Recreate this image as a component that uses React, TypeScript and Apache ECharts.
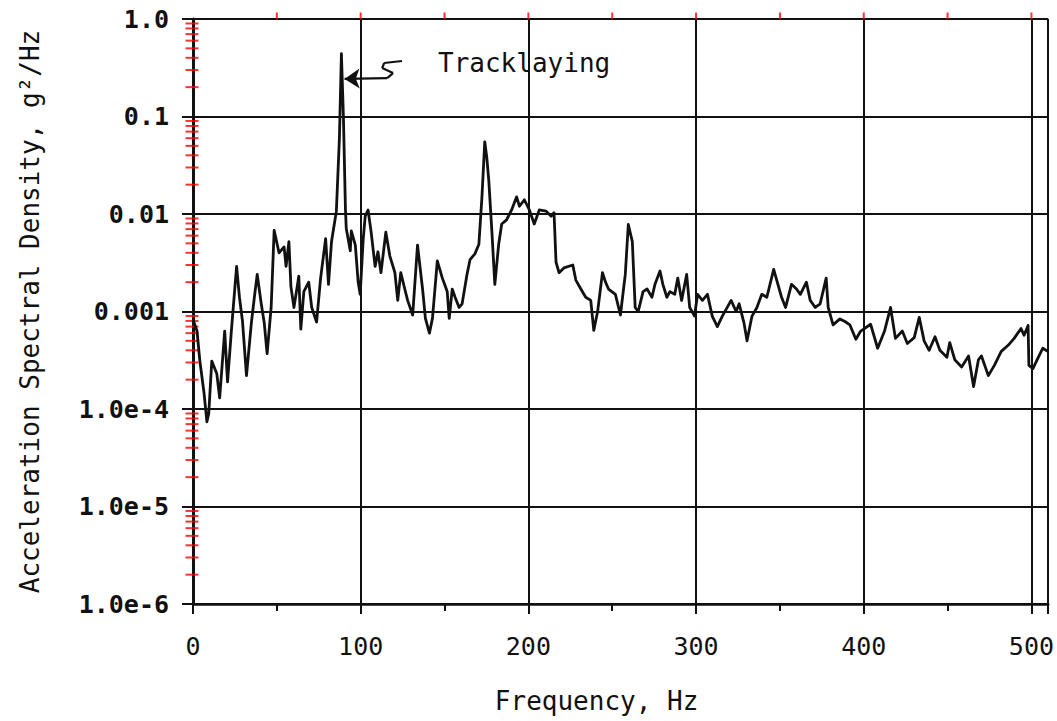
import React, { useEffect, useRef } from "react";
import * as echarts from "echarts";

const freqHz = [
  0, 2.4, 4.1, 6.5, 8.3, 9.4, 11.2, 14.2, 15.9, 18.9, 20.6, 23, 26, 27.7, 29.5, 31.9, 34.8, 36.6, 38.3, 40.7,
  42.5, 44.2, 46.6, 48.4, 51.3, 54.3, 55.5, 57.2, 58.4, 60.2, 63.1, 64.3, 66.1, 69, 70.8, 73.7, 76.1, 79.1, 80.8, 82.6,
  85.5, 87.3, 88.5, 89.7, 90.9, 91.4, 93.8, 94.4, 96.8, 98.5, 99.7, 101.5, 102.7, 104.4, 106.2, 108.6, 110.3, 112.1, 115, 117.4,
  120.4, 122.1, 123.9, 126.3, 128, 131, 133.9, 136.9, 138.6, 141, 142.8, 145.7, 148.7, 151.6, 152.8, 154.6, 156.3, 158.7, 160.5, 163.4,
  165.2, 168.1, 170.5, 172.3, 174, 175.2, 176.4, 178.2, 180, 182.3, 184.1, 187, 190, 193, 194.7, 197.6, 200.6, 203.5, 206.5, 210.6,
  213.6, 215.3, 216.5, 218.3, 221.2, 226.5, 228.3, 231.3, 234.2, 237.2, 239, 241.3, 244.2, 246, 247.8, 251.9, 254.9, 257.8, 259.6, 262,
  263.7, 265.5, 268.4, 270.8, 273.7, 275.5, 278.5, 280.2, 282.6, 284.4, 287.3, 289.1, 291.4, 294.4, 296.2, 299.1, 300.9, 303.8, 306.8, 309.7,
  312.7, 315.6, 320.9, 323.9, 325.7, 328.6, 330.4, 333.3, 336.3, 339.2, 342.2, 346.3, 348.1, 351, 353.4, 356.9, 359.9, 362.2, 365.8, 368.1,
  371.1, 374, 377.6, 378.8, 381.7, 385.8, 388.8, 391.7, 395.3, 398.2, 400.6, 404.1, 408.3, 412.4, 416, 418.9, 423, 426, 430.1, 433.1,
  436, 439, 442.5, 445.4, 449.6, 451.3, 454.3, 458.4, 462.5, 465.5, 468.4, 470.2, 474.3, 477.9, 482, 486.1, 489.7, 493.8, 495.6, 498,
  498.5, 500.9, 503.8, 506.8, 509.7,
];

const psdG2Hz = [
  8.3e-4, 6.3e-4, 3.1e-4, 1.5e-4, 7.4e-5, 9e-5, 3.1e-4, 2.3e-4, 1.3e-4, 6.3e-4, 1.9e-4, 6.7e-4, 2.9e-3, 1.4e-3, 8e-4, 2.2e-4, 7.6e-4, 1.4e-3, 2.4e-3, 1.2e-3,
  7.6e-4, 3.7e-4, 1.1e-3, 6.8e-3, 4e-3, 4.6e-3, 2.9e-3, 5.2e-3, 1.8e-3, 1.1e-3, 2.3e-3, 6.6e-4, 1.6e-3, 2e-3, 1.1e-3, 7.8e-4, 2.2e-3, 5.6e-3, 1.9e-3, 5.2e-3,
  0.0107, 0.059, 0.44, 0.1, 0.0114, 7.1e-3, 4.2e-3, 6.7e-3, 4.8e-3, 2e-3, 1.5e-3, 5.5e-3, 9.5e-3, 0.011, 6.6e-3, 2.9e-3, 4.1e-3, 2.5e-3, 6.5e-3, 3.7e-3,
  2.5e-3, 1.3e-3, 2.5e-3, 1.7e-3, 1.3e-3, 9.2e-4, 4.8e-3, 1.7e-3, 8.5e-4, 6e-4, 8.5e-4, 3.3e-3, 2.2e-3, 1.6e-3, 8.5e-4, 1.7e-3, 1.4e-3, 1.1e-3, 1.2e-3, 2.4e-3,
  3.4e-3, 3.9e-3, 4.9e-3, 0.0148, 0.055, 0.038, 0.022, 6.8e-3, 1.9e-3, 4.9e-3, 7.9e-3, 8.7e-3, 0.011, 0.015, 0.012, 0.014, 0.011, 7.9e-3, 0.011, 0.0107,
  9.5e-3, 0.0103, 3.2e-3, 2.5e-3, 2.8e-3, 3e-3, 2.1e-3, 1.7e-3, 1.4e-3, 1.3e-3, 6.4e-4, 1.0e-3, 2.5e-3, 2e-3, 1.7e-3, 1.5e-3, 9.2e-4, 2.4e-3, 7.8e-3, 5.2e-3,
  1.1e-3, 1e-3, 1.6e-3, 1.7e-3, 1.4e-3, 1.9e-3, 2.6e-3, 1.9e-3, 1.4e-3, 1.6e-3, 1.5e-3, 2.2e-3, 1.3e-3, 2.4e-3, 1.1e-3, 9e-4, 1.5e-3, 1.3e-3, 1.5e-3, 8.9e-4,
  7e-4, 8.9e-4, 1.3e-3, 1e-3, 1.2e-3, 7.6e-4, 5e-4, 8.9e-4, 1.1e-3, 1.5e-3, 1.4e-3, 2.7e-3, 2.1e-3, 1.4e-3, 1.1e-3, 1.9e-3, 1.7e-3, 1.5e-3, 2e-3, 1.3e-3,
  1.1e-3, 1.2e-3, 2.2e-3, 1.1e-3, 7.3e-4, 8.4e-4, 7.9e-4, 7.3e-4, 5.2e-4, 6.3e-4, 6.7e-4, 7.4e-4, 4.2e-4, 6.3e-4, 1.1e-3, 5.3e-4, 6.3e-4, 4.7e-4, 5.4e-4, 8.7e-4,
  5e-4, 4e-4, 5.5e-4, 4e-4, 3.4e-4, 4.8e-4, 3.2e-4, 2.7e-4, 3.5e-4, 1.7e-4, 3.2e-4, 3.5e-4, 2.2e-4, 2.8e-4, 3.9e-4, 4.5e-4, 5.3e-4, 6.7e-4, 5.7e-4, 7.2e-4,
  2.8e-4, 2.6e-4, 3.3e-4, 4.2e-4, 3.9e-4,
];

const yTickLabels = ["1.0", "0.1", "0.01", "0.001", "1.0e-4", "1.0e-5", "1.0e-6"];
const xTickLabels = [0, 100, 200, 300, 400, 500];
const topTickHz = [50, 100, 150, 200, 250, 300, 350, 400, 450, 500];
const yMinorMultipliers = [2, 3, 4, 5, 6, 7, 8, 9];
const yDecades = [-6, -5, -4, -3, -2, -1];

// "Tracklaying" pointer path, in data coordinates (Hz, g^2/Hz)
const pointerHz = [124.6, 114.0, 112.8, 119.3, 115.8, 90.4];
const pointerPsd = [0.371, 0.354, 0.314, 0.279, 0.248, 0.243];

const FONT = "'DejaVu Sans Mono', monospace";
const INK = "#111";

export default function App() {
  const ref = useRef<HTMLDivElement>(null);

  useEffect(() => {
    document.body.style.margin = "0";
    const chart = echarts.init(ref.current!, null, { renderer: "svg" });

    const seriesData = freqHz.map((f, i) => [f, psdG2Hz[i]]);
    const minorTickData = yDecades.flatMap((d) => yMinorMultipliers.map((m) => [0, m * Math.pow(10, d)]));
    const topTickData = topTickHz.map((f) => [f, 1]);

    const pointerSegments: any[] = [];
    for (let i = 0; i < pointerHz.length - 1; i++) {
      const last = i === pointerHz.length - 2;
      pointerSegments.push([
        { coord: [pointerHz[i], pointerPsd[i]], symbol: "none" },
        { coord: [pointerHz[i + 1], pointerPsd[i + 1]], symbol: last ? "arrow" : "none", symbolSize: last ? 15 : 0 },
      ]);
    }

    chart.setOption({
      animation: false,
      backgroundColor: "#ffffff",
      title: [
        {
          text: "Tracklaying",
          left: 438,
          top: 49,
          padding: 0,
          textStyle: { fontFamily: FONT, fontSize: 26, fontWeight: "normal", color: INK, lineHeight: 28 },
        },
      ],
      grid: { left: 193, right: 1, top: 19, bottom: 117 },
      xAxis: {
        type: "value",
        min: 0,
        max: 510,
        interval: 100,
        name: "Frequency, Hz",
        nameLocation: "middle",
        nameGap: 84,
        nameTextStyle: { fontFamily: FONT, fontSize: 26, color: INK, padding: [0, 48, 0, 0] },
        axisLine: { show: true, lineStyle: { color: INK, width: 2.5 } },
        axisTick: { show: true, length: 10, lineStyle: { color: INK, width: 2 } },
        minorTick: { show: true, splitNumber: 2, length: 7, lineStyle: { color: INK, width: 2 } },
        axisLabel: {
          margin: 30,
          fontFamily: FONT,
          fontSize: 25,
          color: INK,
          formatter: (v: number) => (xTickLabels.indexOf(v) >= 0 ? String(v) : ""),
        },
        splitLine: { show: true, lineStyle: { color: INK, width: 2 } },
      },
      yAxis: {
        type: "log",
        logBase: 10,
        min: 1e-6,
        max: 1,
        splitNumber: 6,
        name: "Acceleration Spectral Density, g²/Hz",
        nameLocation: "middle",
        nameRotate: 90,
        nameGap: 150,
        nameTextStyle: { fontFamily: FONT, fontSize: 26, color: INK },
        axisLine: { show: true, lineStyle: { color: INK, width: 3 } },
        axisTick: { show: true, length: 11, lineStyle: { color: INK, width: 2 } },
        axisLabel: {
          margin: 24,
          fontFamily: FONT,
          fontWeight: "bold",
          fontSize: 25,
          color: INK,
          formatter: (v: number) => {
            const e = Math.round(Math.log10(v));
            return yTickLabels[-e] ?? "";
          },
        },
        splitLine: { show: true, lineStyle: { color: INK, width: 2 } },
      },
      series: [
        {
          type: "line",
          data: seriesData,
          showSymbol: false,
          symbol: "none",
          lineStyle: { color: INK, width: 2.8, join: "round" },
          markLine: {
            silent: true,
            animation: false,
            symbol: ["none", "none"],
            label: { show: false },
            lineStyle: { color: INK, width: 2.2, type: "solid" },
            emphasis: { disabled: true },
            data: pointerSegments,
          },
        },
        {
          type: "scatter",
          data: minorTickData,
          symbol: "rect",
          symbolSize: [13, 2],
          symbolOffset: [-1, 0],
          itemStyle: { color: "red" },
          clip: false,
          silent: true,
        },
        {
          type: "scatter",
          data: topTickData,
          symbol: "rect",
          symbolSize: [2, 7],
          symbolOffset: [0, -3],
          itemStyle: { color: "red" },
          clip: false,
          silent: true,
        },
      ],
    });

    return () => chart.dispose();
  }, []);

  return (
    <div
      ref={ref}
      style={{ position: "absolute", left: 0, top: 0, width: 1057, height: 721, background: "#fff" }}
    />
  );
}
